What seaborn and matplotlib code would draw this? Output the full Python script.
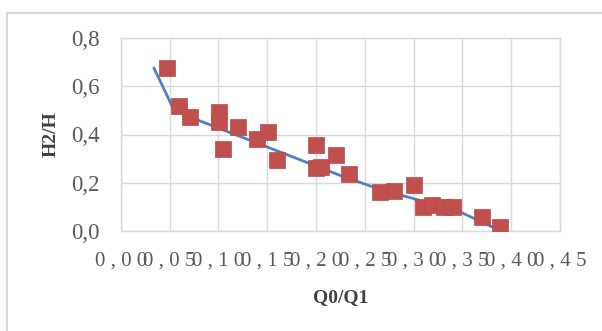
import matplotlib
matplotlib.use("Agg")
import matplotlib.pyplot as plt
from matplotlib.patches import Rectangle
import seaborn as sns
import pandas as pd

# data
x_pts = [0.047, 0.060, 0.071, 0.101, 0.101, 0.105, 0.120, 0.140, 0.151, 0.160,
         0.200, 0.200, 0.205, 0.221, 0.234, 0.266, 0.280, 0.300, 0.310, 0.319,
         0.331, 0.340, 0.370, 0.389]
y_pts = [0.678, 0.517, 0.471, 0.495, 0.453, 0.340, 0.431, 0.382, 0.412, 0.292,
         0.357, 0.260, 0.265, 0.315, 0.236, 0.162, 0.167, 0.190, 0.098, 0.107,
         0.100, 0.100, 0.056, 0.014]
line_x = [0.034, 0.053, 0.079, 0.166, 0.224, 0.262, 0.316, 0.344, 0.381]
line_y = [0.677, 0.515, 0.460, 0.323, 0.231, 0.177, 0.115, 0.085, 0.015]
x_ticks = [0.00, 0.05, 0.10, 0.15, 0.20, 0.25, 0.30, 0.35, 0.40, 0.45]
x_tick_labels = ["0 , 0 0", "0 , 0 5", "0 , 1 0", "0 , 1 5", "0 , 2 0",
                 "0 , 2 5", "0 , 3 0", "0 , 3 5", "0 , 4 0", "0 , 4 5"]
y_ticks = [0.0, 0.2, 0.4, 0.6, 0.8]
y_tick_labels = ["0,0", "0,2", "0,4", "0,6", "0,8"]
x_label = "Q0/Q1"
y_label = "H2/H"

sns.set_style("white")
plt.rcParams["font.family"] = ["Liberation Serif", "DejaVu Serif"]

pts = pd.DataFrame({"x": x_pts, "y": y_pts})
ln = pd.DataFrame({"x": line_x, "y": line_y})

fig = plt.figure(figsize=(6.02, 3.31), dpi=100)
ax = fig.add_axes([120.7 / 602, 1 - 230.7 / 331, (560 - 120.7) / 602, (230.7 - 38.3) / 331])

grid_c = "#D9D9D9"
ax.set_xlim(0, 0.45)
ax.set_ylim(0, 0.8)
ax.set_xticks(x_ticks)
ax.set_yticks(y_ticks)
ax.grid(True, color=grid_c, linewidth=1.0)
ax.set_axisbelow(True)
for s in ax.spines.values():
    s.set_color(grid_c)
    s.set_linewidth(1.0)

sns.lineplot(data=ln, x="x", y="y", ax=ax, color="#4F81BD", linewidth=2.0,
             sort=False, estimator=None, zorder=2)
sns.scatterplot(data=pts, x="x", y="y", ax=ax, marker="s", s=11 ** 2,
                color="#C0504D", edgecolor="#B64B48", linewidth=0.5, zorder=3)

ax.set_xticklabels(x_tick_labels, fontsize=15, color="#595959")
ax.set_yticklabels(y_tick_labels, fontsize=16.5, color="#595959")
ax.tick_params(axis="x", length=0, pad=15)
ax.tick_params(axis="y", length=0, pad=15)
ax.set_xlabel(x_label, fontsize=14, fontweight="bold", color="#404040", labelpad=13)
ax.set_ylabel(y_label, fontsize=14, fontweight="bold", color="#404040", labelpad=8)

fig.patches.append(Rectangle((7 / 602, -0.1), 1.2, 1 - 13 / 331 + 0.1,
                             transform=fig.transFigure, fill=False,
                             edgecolor="#D9D9D9", linewidth=1.5, zorder=0))

fig.savefig("out.png", dpi=100)
